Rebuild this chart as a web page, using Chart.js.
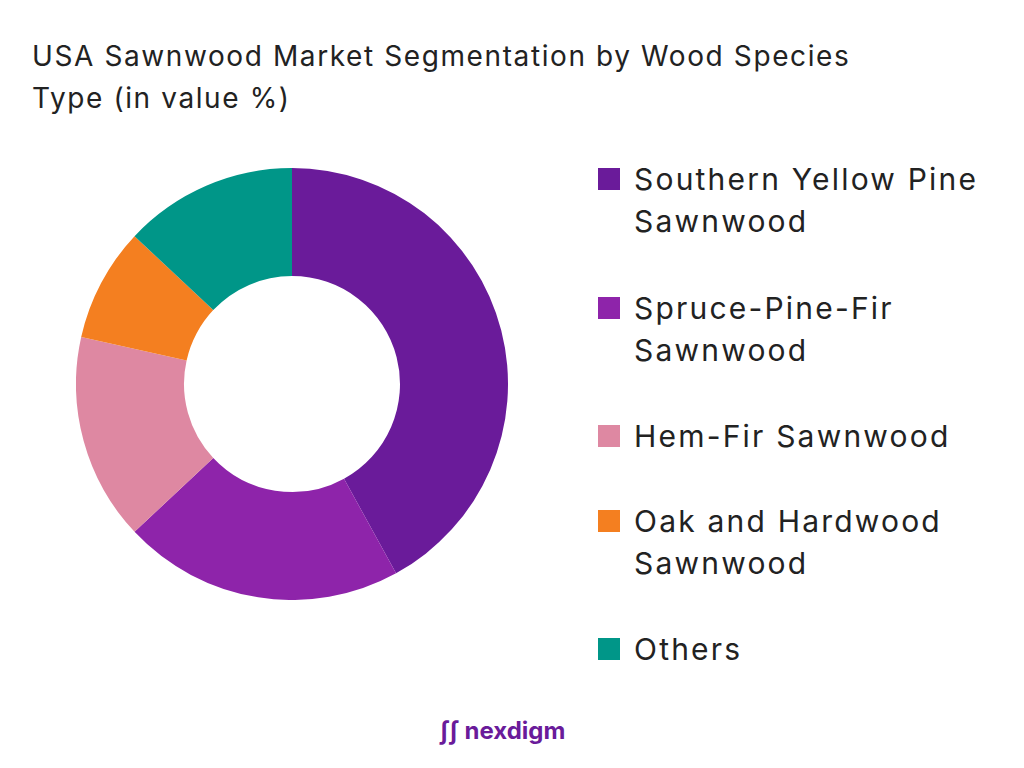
<!DOCTYPE html>
<html><head><meta charset="utf-8">
<script src="https://cdn.jsdelivr.net/npm/chart.js@4"></script>
<style>
body{margin:0;width:1024px;height:768px;background:#fff;font-family:Inter,"Open Sans",sans-serif;color:#222;position:relative;overflow:hidden}
#title{position:absolute;left:32px;top:35px;font-size:28px;line-height:42px;width:960px;letter-spacing:1.6px}
#wrap{position:absolute;left:76px;top:168px;width:432px;height:432px}
#legend{position:absolute;left:598px;top:0}
.item{position:absolute;display:flex;align-items:flex-start;font-size:30px;line-height:42px;white-space:nowrap;letter-spacing:2.2px}
.sw{width:22px;height:22px;margin-top:10px;margin-right:14px;flex:none}
#logo{position:absolute;left:440px;top:716px;font-size:24px;font-weight:700;color:#6a1b9a}
</style></head><body>
<div id="title">USA Sawnwood Market Segmentation by Wood Species<br>Type (in value %)</div>
<div id="wrap"><canvas id="c"></canvas></div>
<div id="legend"></div>
<div id="logo">ʃʃ nexdigm</div>
<script>
const categories=["Southern Yellow Pine Sawnwood","Spruce-Pine-Fir Sawnwood","Hem-Fir Sawnwood","Oak and Hardwood Sawnwood","Others"];
const legendLines=[["Southern Yellow Pine","Sawnwood"],["Spruce-Pine-Fir","Sawnwood"],["Hem-Fir Sawnwood"],["Oak and Hardwood","Sawnwood"],["Others"]];
const values=[42,21,15.5,8.5,13];
const colors=["#6a1b9a","#8e24aa","#de88a2","#f47f20","#009688"];
const tops=[158,287,415,500,628];
const lg=document.getElementById('legend');
legendLines.forEach((l,i)=>{const d=document.createElement('div');d.className='item';d.style.top=tops[i]+'px';
d.innerHTML='<div class="sw" style="background:'+colors[i]+'"></div><div>'+l.join('<br>')+'</div>';lg.appendChild(d);});
new Chart(document.getElementById('c'),{type:'doughnut',data:{labels:categories,datasets:[{data:values,backgroundColor:colors,borderWidth:0}]},
options:{responsive:true,maintainAspectRatio:false,cutout:'50%',animation:false,plugins:{legend:{display:false},tooltip:{enabled:false}}}});
</script></body></html>
